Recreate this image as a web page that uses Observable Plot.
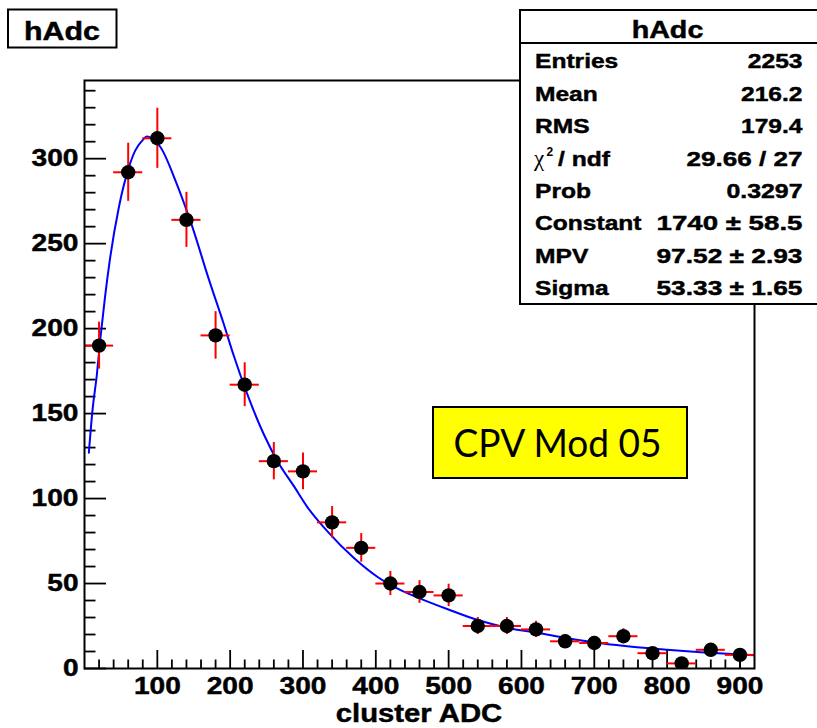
<!DOCTYPE html>
<html><head><meta charset="utf-8">
<script src="https://cdn.jsdelivr.net/npm/d3@7"></script>
<script src="https://cdn.jsdelivr.net/npm/@observablehq/plot@0.6"></script>
<style>
body{margin:0;background:#fff;}
#wrap{position:relative;width:817px;height:728px;overflow:hidden;background:#fff;}
#wrap svg{position:absolute;left:0;top:0;}
</style></head><body><div id="wrap"></div>
<script>
// ---- data ----
const binCenters = [20, 60, 100, 140, 180, 220, 260, 300, 340, 380, 420, 460, 500, 540, 580, 620, 660, 700, 740, 780, 820, 860, 900];
const counts     = [190, 292, 312, 264, 196, 167, 122, 116, 86, 71, 50, 45, 43, 25, 25, 23, 16, 15, 19, 9, 3, 11, 8];
const errors     = [13.8, 17.1, 17.7, 16.2, 14.0, 12.9, 11.0, 10.8, 9.3, 8.4, 7.1, 6.7, 6.6, 5.0, 5.0, 4.8, 4.0, 3.9, 4.4, 3.0, 1.7, 3.3, 2.8];
const binHalfWidth = 20;

// Landau fit curve
const fitX = [6, 11, 17, 22, 28, 35, 47, 61, 70, 78, 86, 95, 104, 125, 148, 170, 191, 205, 223, 246, 265, 288, 306, 333, 370, 402, 430, 462, 498, 540, 580, 622, 663, 709, 755, 800, 846, 920];
const fitY = [127, 152, 173, 195, 218, 241, 271, 295, 305, 310, 313, 311, 307, 287, 260, 230, 203, 184, 162, 138, 122, 107, 95, 81, 65, 54, 47, 41, 35, 28.5, 24, 21, 17.8, 14.8, 12.6, 11, 9.6, 7.8];

const xMajorTicks = [100, 200, 300, 400, 500, 600, 700, 800, 900];
const xMinorTicks = [20, 40, 60, 80, 120, 140, 160, 180, 220, 240, 260, 280, 320, 340, 360, 380, 420, 440, 460, 480, 520, 540, 560, 580, 620, 640, 660, 680, 720, 740, 760, 780, 820, 840, 860, 880, 900];
const yMajorTicks = [0, 50, 100, 150, 200, 250, 300];
const yMinorTicks = [10, 20, 30, 40, 60, 70, 80, 90, 110, 120, 130, 140, 160, 170, 180, 190, 210, 220, 230, 240, 260, 270, 280, 290, 310, 320, 330, 340];

const histName = "hAdc";
const xTitle = "cluster ADC";
const statLabels = ["Entries", "Mean", "RMS", "χ2 / ndf", "Prob", "Constant", "MPV", "Sigma"];
const statValues = ["2253", "216.2", "179.4", "29.66 / 27", "0.3297", "1740 ± 58.5", "97.52 ± 2.93", "53.33 ± 1.65"];
const boxLabel = "CPV Mod 05";

// ---- tables ----
const points = binCenters.map((c, i) => ({x: c, y: counts[i], lo: c - binHalfWidth, hi: c + binHalfWidth, e1: counts[i] - errors[i], e2: counts[i] + errors[i]}));
const fit = fitX.map((x, i) => ({x, y: fitY[i]}));

const FONT = "'Liberation Sans', Arial, sans-serif";
const plot = Plot.plot({
  width: 817, height: 728,
  marginLeft: 84, marginRight: 63, marginTop: 80, marginBottom: 60,
  x: {domain: [0, 920], label: null},
  y: {domain: [0, 346], label: null},
  style: `font-family:${FONT};font-weight:bold;font-size:24px;color:black;background:white;overflow:visible;`,
  marks: [
    Plot.axisY(yMinorTicks, {tickSize: -11.5, fill: "none", strokeWidth: 1.8, label: null}),
    Plot.axisY(yMajorTicks, {tickSize: -22, fill: "none", strokeWidth: 1.8, label: null}),
    Plot.axisY(yMajorTicks, {tickSize: 0, tickPadding: 6, fontSize: 24, fontWeight: "bold", label: null}),
    Plot.axisX(xMinorTicks, {tickSize: -8.5, fill: "none", strokeWidth: 1.8, label: null}),
    Plot.axisX(xMajorTicks, {tickSize: -18, fill: "none", strokeWidth: 1.8, label: null}),
    Plot.axisX(xMajorTicks, {tickSize: 0, tickPadding: 8, fontSize: 24, fontWeight: "bold", label: null}),
    Plot.line(fit, {x: "x", y: "y", stroke: "#0000ff", strokeWidth: 2, curve: "monotone-x", clip: true}),
    Plot.ruleY(points, {x1: "lo", x2: "hi", y: "y", stroke: "#ff0000", strokeWidth: 2, clip: true}),
    Plot.ruleX(points, {x: "x", y1: "e1", y2: "e2", stroke: "#ff0000", strokeWidth: 2, clip: true}),
    Plot.dot(points, {x: "x", y: "y", r: 7.2, fill: "black", stroke: null, clip: true}),
    Plot.frame({stroke: "black", strokeWidth: 2})
  ]
});
const wrap = document.getElementById("wrap");
wrap.appendChild(plot);

const K = 1.17; // horizontal stretch of the reference text
function stretch(sel, fixed) {
  sel.each(function() {
    const w = fixed || this.getComputedTextLength() * K;
    if (w > 0) { this.setAttribute("textLength", w.toFixed(1)); this.setAttribute("lengthAdjust", "spacingAndGlyphs"); }
    this.setAttribute("stroke", "black"); this.setAttribute("stroke-width", "0.45");
  });
}
stretch(d3.select(plot).selectAll('g[aria-label$="tick label"] text'));

// ---- overlay: title box, stats box, annotation, x title ----
const svg = d3.select(wrap).append("svg").attr("width", 817).attr("height", 728)
  .style("font-family", FONT).style("font-weight", "bold");

// title box
svg.append("rect").attr("x", 8).attr("y", 9.5).attr("width", 108.5).attr("height", 38)
  .attr("fill", "white").attr("stroke", "black").attr("stroke-width", 2);
const t1 = svg.append("text").attr("x", 62).attr("y", 40).attr("text-anchor", "middle")
  .attr("font-size", 26).text(histName);

// stats box
svg.append("rect").attr("x", 520).attr("y", 10).attr("width", 320).attr("height", 294)
  .attr("fill", "white").attr("stroke", "black").attr("stroke-width", 2);
svg.append("line").attr("x1", 520).attr("x2", 840).attr("y1", 43).attr("y2", 43)
  .attr("stroke", "black").attr("stroke-width", 2);
const t2 = svg.append("text").attr("x", 667.5).attr("y", 38).attr("text-anchor", "middle")
  .attr("font-size", 24.5).text(histName);

const stretchList = [[t1], [t2]];
const valueWidths = [null, null, null, 116, 76, 146, 146, 146];
statLabels.forEach((lab, i) => {
  const y = 68.3 + 32.4 * i;
  if (lab.startsWith("χ")) {
    svg.append("text").attr("x", 534).attr("y", y).attr("font-size", 23).attr("font-weight", "normal")
      .attr("font-family", "'Liberation Serif', serif").text("χ");
    svg.append("text").attr("x", 546.5).attr("y", y - 9.5).attr("font-size", 12).text("2");
    stretchList.push([svg.append("text").attr("x", 558).attr("y", y).attr("font-size", 21).text(lab.slice(2).trim())]);
  } else {
    stretchList.push([svg.append("text").attr("x", 535).attr("y", y).attr("font-size", 21).text(lab)]);
  }
  stretchList.push([svg.append("text").attr("x", 802.5).attr("y", y).attr("font-size", 21)
    .attr("text-anchor", "end").text(statValues[i]), valueWidths[i]]);
});

// x-axis title
stretchList.push([svg.append("text").attr("x", 419).attr("y", 722).attr("text-anchor", "middle")
  .attr("font-size", 25).text(xTitle)]);
stretchList.forEach(([s, w]) => stretch(s, w));

// yellow annotation
svg.append("rect").attr("x", 433).attr("y", 407).attr("width", 254).attr("height", 71)
  .attr("fill", "#ffff00").attr("stroke", "black").attr("stroke-width", 2);
svg.append("text").attr("x", 557.5).attr("y", 456.5).attr("text-anchor", "middle")
  .attr("font-family", "Lato, 'Open Sans', sans-serif").attr("font-weight", "normal")
  .attr("font-size", 39.5).attr("textLength", 208).attr("lengthAdjust", "spacingAndGlyphs")
  .text(boxLabel);
</script></body></html>
